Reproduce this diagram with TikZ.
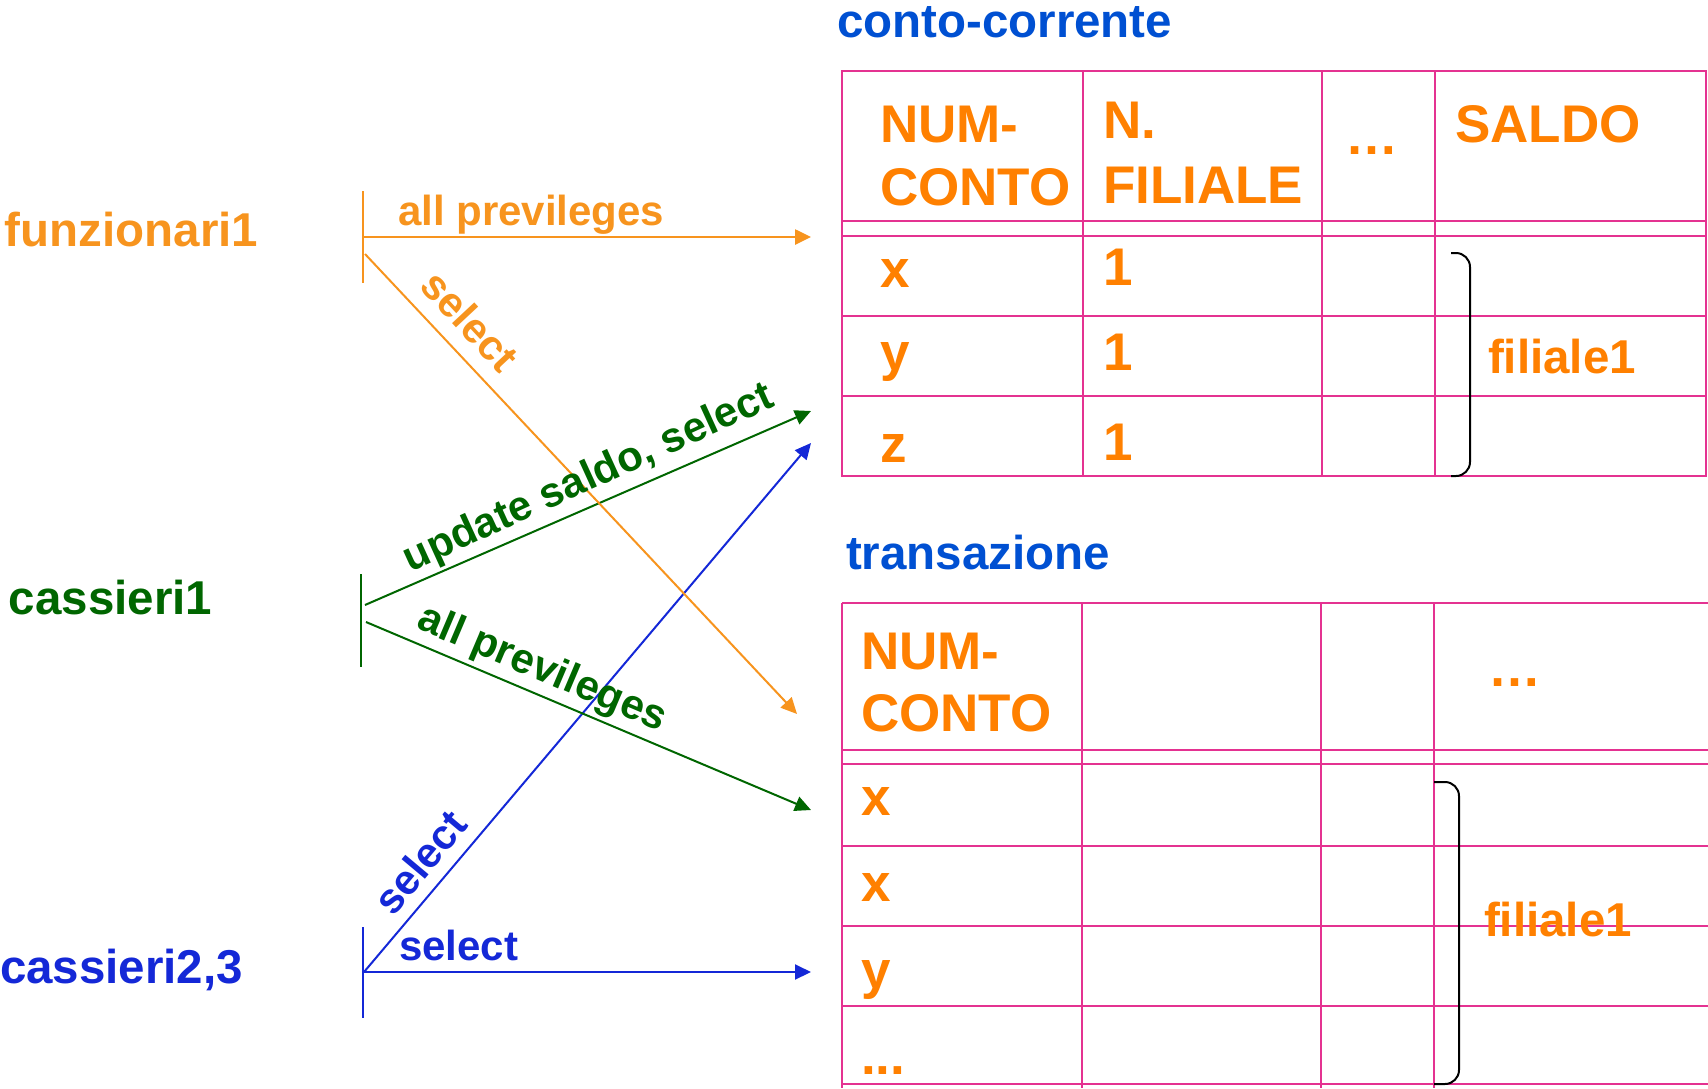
\documentclass[tikz,border=0pt]{standalone}
\usepackage{fontspec}
\setmainfont{Liberation Sans}
\usetikzlibrary{arrows.meta}
\definecolor{fOrange}{RGB}{247,148,30}
\definecolor{tOrange}{RGB}{255,128,0}
\definecolor{cGreen}{RGB}{0,102,0}
\definecolor{cBlue}{RGB}{20,40,215}
\definecolor{tBlue}{RGB}{0,80,210}
\definecolor{gridPink}{RGB}{228,50,145}
\tikzset{
  basetxt/.style={inner sep=0pt, outer sep=0pt},
  roletxt/.style={basetxt, anchor=base west, font=\bfseries\fontsize{47.5}{50}\selectfont},
  titletxt/.style={basetxt, anchor=base west, text=tBlue, font=\bfseries\fontsize{47.5}{50}\selectfont},
  celltxt/.style={basetxt, anchor=base west, text=tOrange, font=\bfseries\fontsize{53}{56}\selectfont},
  grouptxt/.style={basetxt, anchor=base west, text=tOrange, font=\bfseries\fontsize{47.5}{50}\selectfont},
  arrowlbl/.style={basetxt, font=\bfseries\fontsize{42}{44}\selectfont},
  hgrid/.style={draw=gridPink, line width=2.6pt},
  vgrid/.style={draw=gridPink, line width=1.8pt},
  rolebar/.style={line width=2pt},
  priv/.style={line width=2pt, -{Triangle[length=16pt,width=15pt]}},
  bracket/.style={draw=black, line width=2pt, rounded corners=14pt}
}
\begin{document}
\begin{tikzpicture}[x=1pt,y=-1pt]
\useasboundingbox (0,0) rectangle (1708,1088);

% ---------- table conto-corrente ----------
\node[titletxt] (t1) at (837,37) {conto-corrente};
\draw[hgrid] (842,71) rectangle (1706,476);
\foreach \yy in {221,236,316,396} \draw[hgrid] (842,\yy) -- (1706,\yy);
\foreach \xx in {1083,1322,1435} \draw[vgrid] (\xx,71) -- (\xx,476);

\node[celltxt] (a1) at (880,142) {NUM-};
\node[celltxt] (a2) at (880,205) {CONTO};
\node[celltxt] (a3) at (1103,138) {N.};
\node[celltxt] (a4) at (1103,203) {FILIALE};
\node[celltxt] (a5) at (1345,154) {…};
\node[celltxt] (a6) at (1455,142) {SALDO};
\node[celltxt] (r1a) at (880,287) {x};
\node[celltxt] (r1b) at (1103,285) {1};
\node[celltxt] (r2a) at (880,370) {y};
\node[celltxt] (r2b) at (1103,370) {1};
\node[celltxt] (r3a) at (880,462) {z};
\node[celltxt] (r3b) at (1103,460) {1};
\node[grouptxt] (g1) at (1488,373) {filiale1};
\draw[bracket] (1451,253) -- (1470,253) -- (1470,476) -- (1451,476);

% ---------- table transazione ----------
\node[titletxt] (t2) at (846,569) {transazione};
\foreach \yy in {603,750,764,846,926,1006,1084} \draw[hgrid] (842,\yy) -- (1708,\yy);
\draw[hgrid] (842,603) -- (842,1088);
\foreach \xx in {1082,1321,1434} \draw[vgrid] (\xx,603) -- (\xx,1088);

\node[celltxt] (b1) at (861,669) {NUM-};
\node[celltxt] (b2) at (861,731) {CONTO};
\node[celltxt] (b3) at (1488,686) {…};
\node[celltxt] (s1) at (861,815) {x};
\node[celltxt] (s2) at (861,901) {x};
\node[celltxt] (s3) at (861,988) {y};
\node[celltxt] (s4) at (861,1074) {...};
\node[grouptxt] (g2) at (1484,936) {filiale1};
\draw[bracket] (1434,782) -- (1459,782) -- (1459,1084) -- (1434,1084);

% ---------- roles ----------
\node[roletxt, text=fOrange] (fun) at (5,246) {funzionari1};
\node[roletxt, text=cGreen] (cas1) at (9,614) {cassieri1};
\node[roletxt, text=cBlue] (cas2) at (0,983) {cassieri2,3};

\draw[rolebar, fOrange] (363,191) -- (363,283);
\draw[rolebar, cGreen] (361,574) -- (361,667);
\draw[rolebar, cBlue] (363,927) -- (363,1018);

% ---------- connector end points ----------
\coordinate (fa) at (363,237);
\coordinate (fb) at (365,254);
\coordinate (ca) at (365,605);
\coordinate (cb) at (366,622);
\coordinate (da) at (364,972);
\coordinate (ta1) at (811,237);
\coordinate (ta2) at (797,714);
\coordinate (tb1) at (811,411);
\coordinate (tb2) at (811,810);
\coordinate (tc1) at (811,443);
\coordinate (tc2) at (811,972);

% ---------- connectors ----------
\draw[priv, draw=cBlue, fill=cBlue] (da) -- (tc1);
\draw[priv, draw=cBlue, fill=cBlue] (da) -- (tc2);
\draw[priv, draw=cGreen, fill=cGreen] (ca) -- (tb1);
\draw[priv, draw=cGreen, fill=cGreen] (cb) -- (tb2);
\draw[priv, draw=fOrange, fill=fOrange, line width=2.6pt] (fa) -- (ta1);
\draw[priv, draw=fOrange, fill=fOrange] (fb) -- (ta2);

% ---------- connector labels ----------
\node[arrowlbl, text=fOrange, anchor=base west] (l1) at (398,225) {all previleges};
\node[arrowlbl, text=fOrange, rotate=-47] (l2) at (470,321) {select};
\node[arrowlbl, text=cGreen, rotate=24.5] (l3) at (589,479) {update saldo, select};
\node[arrowlbl, text=cGreen, rotate=-23] (l4) at (542,670) {all previleges};
\node[arrowlbl, text=cBlue, rotate=50] (l5) at (420,862) {select};
\node[arrowlbl, text=cBlue, anchor=base west] (l6) at (399,960) {select};
\end{tikzpicture}
\end{document}
